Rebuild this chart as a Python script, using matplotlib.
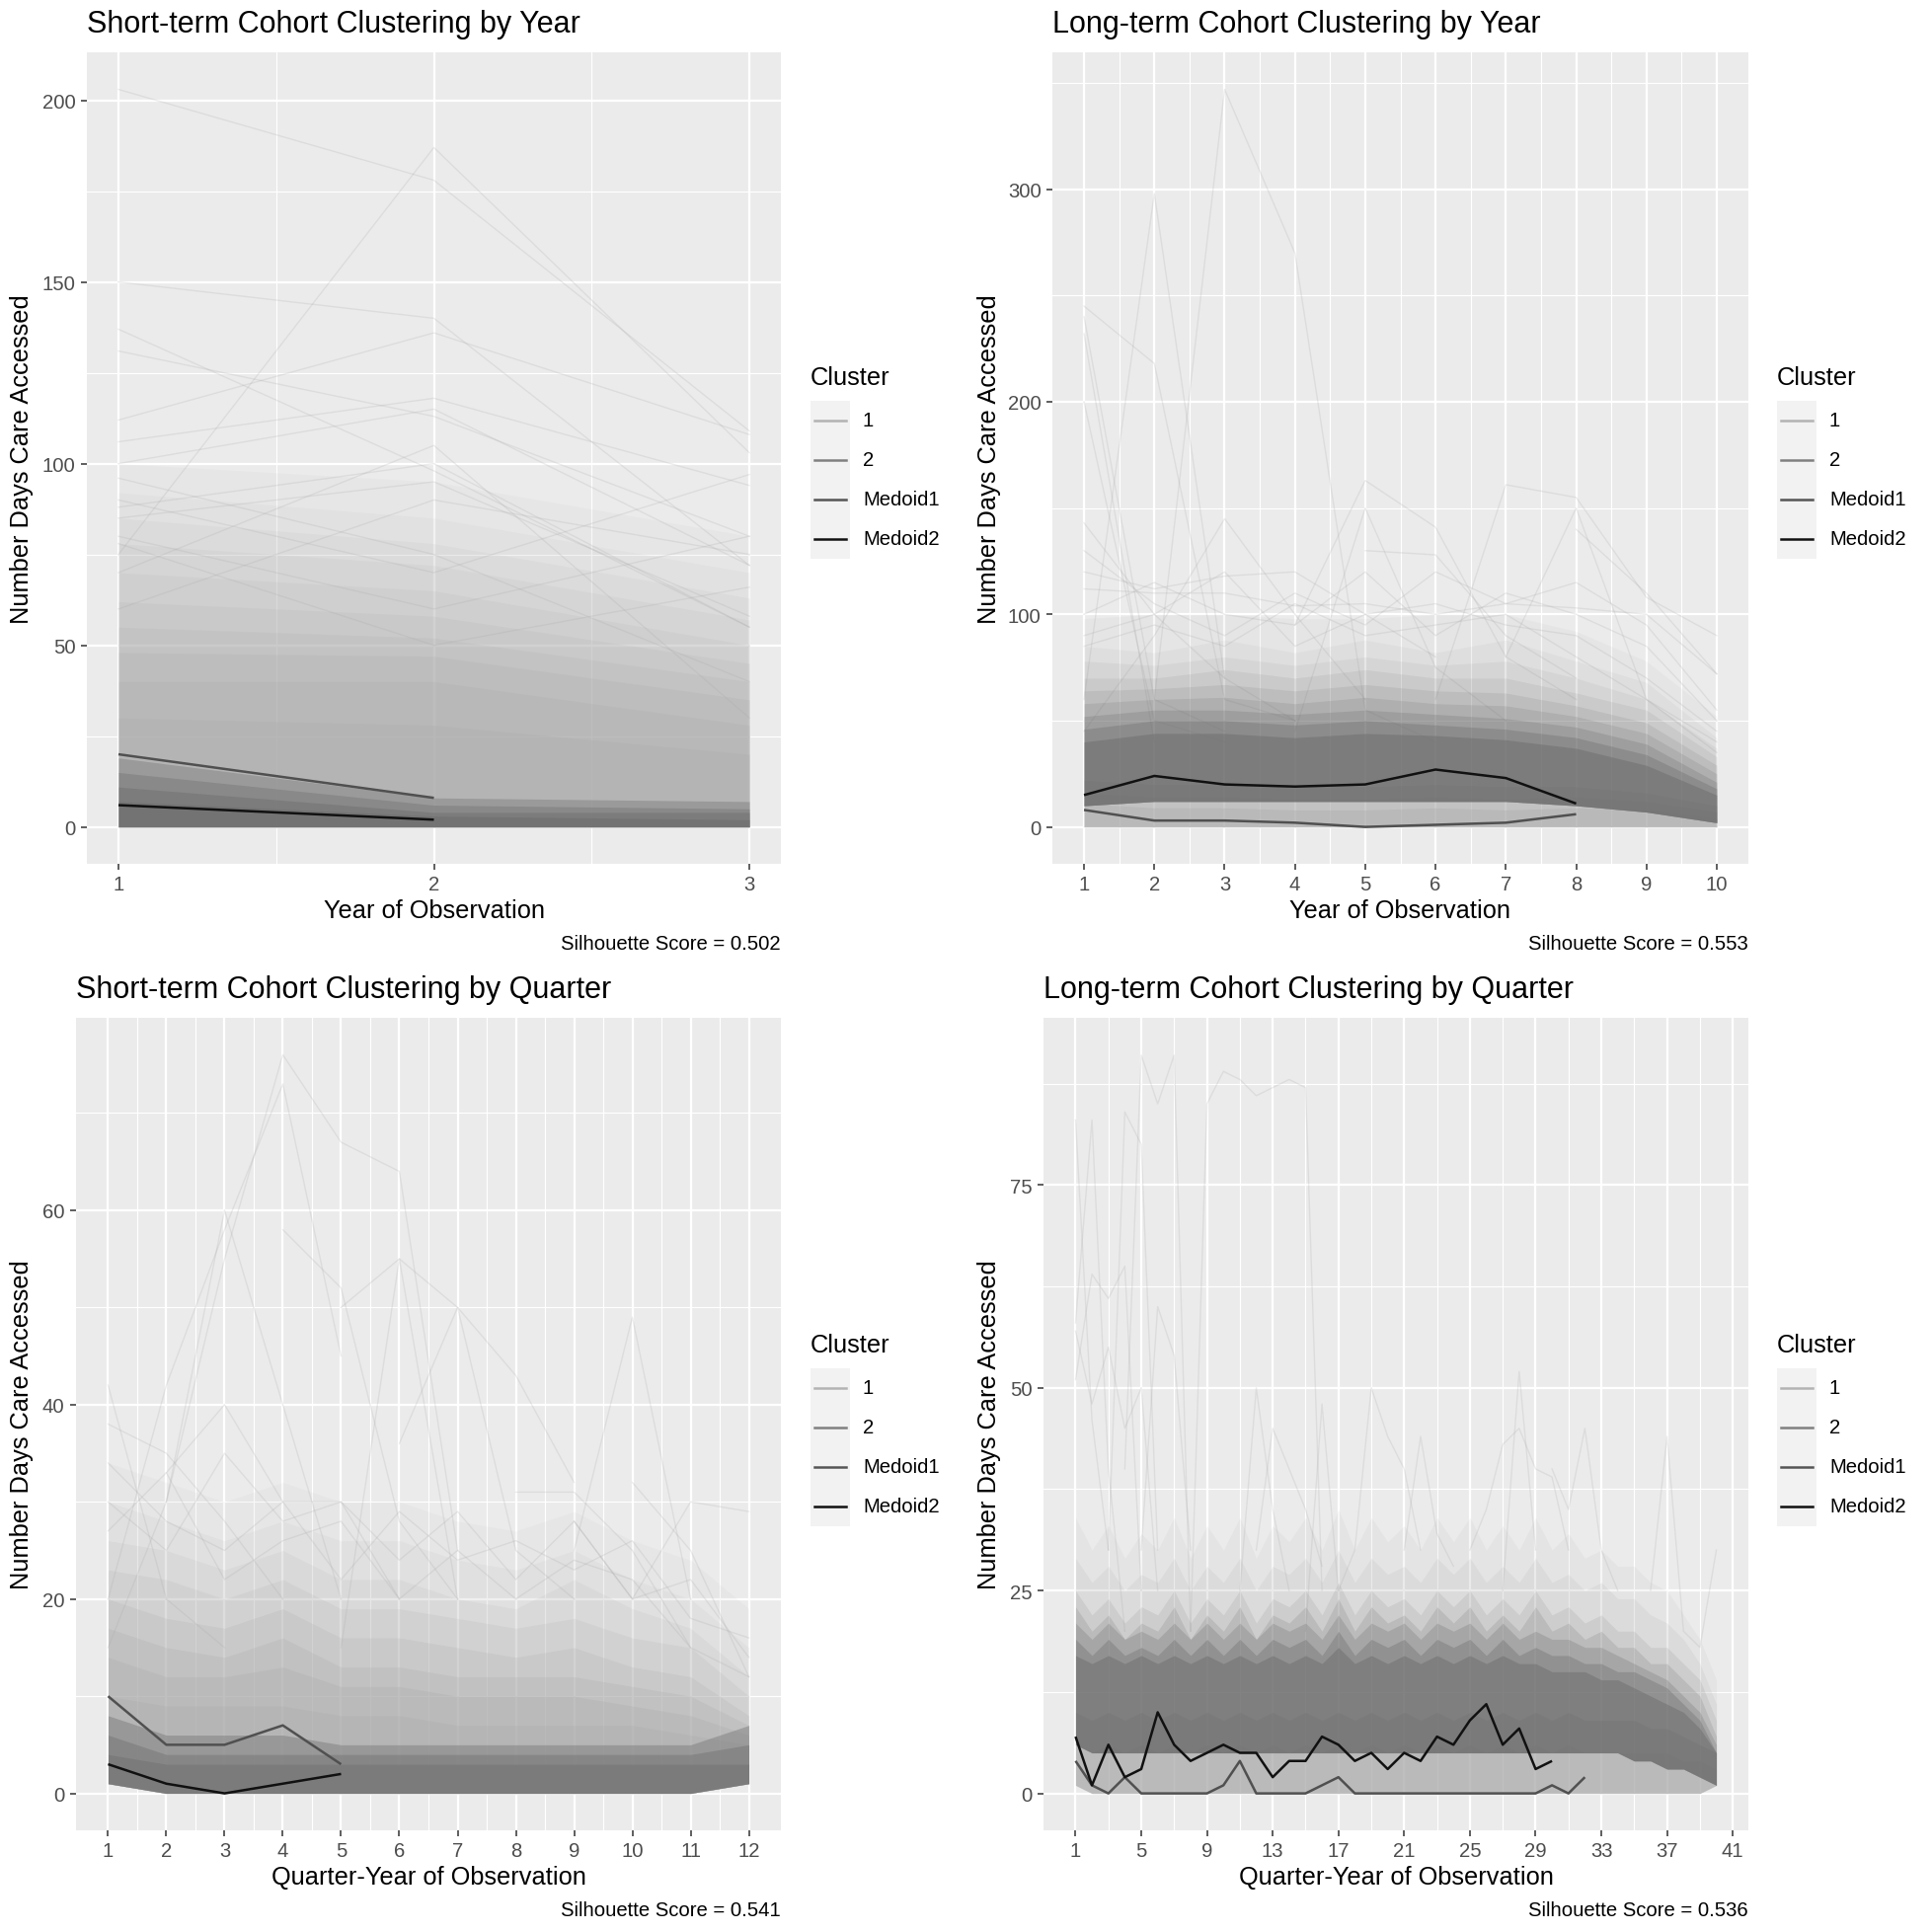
import numpy as np
import matplotlib
matplotlib.use("Agg")
import matplotlib.pyplot as plt
from matplotlib.patches import Rectangle
from matplotlib.lines import Line2D

plt.rcParams['font.family'] = ['Liberation Sans', 'DejaVu Sans']

# ---------------------------------------------------------------- data
titles = ["Short-term Cohort Clustering by Year", "Long-term Cohort Clustering by Year",
          "Short-term Cohort Clustering by Quarter", "Long-term Cohort Clustering by Quarter"]
xlabels = ["Year of Observation", "Year of Observation",
           "Quarter-Year of Observation", "Quarter-Year of Observation"]
ylabel = "Number Days Care Accessed"
silhouette = ["0.502", "0.553", "0.541", "0.536"]
legend_title = "Cluster"
legend_labels = ["1", "2", "Medoid1", "Medoid2"]

N = None

# --- short-term, by year
tl_x = [1, 2, 3]
tl_medoid1 = [20, 8]
tl_medoid2 = [6, 2]
tl_c1_lower = [0, 0, 0]
tl_c1_levels = [[100, 95, 80], [92, 85, 70], [85, 78, 63], [78, 72, 57], [70, 65, 50],
                [62, 58, 45], [55, 52, 40], [48, 47, 35], [40, 40, 28], [30, 28, 20]]
tl_c2_lower = [0, 0, 0]
tl_c2_levels = [[19, 8, 7], [15, 6, 5], [11, 4, 4], [7, 3, 2]]
tl_outliers = [
    [203, 178, 109], [75, 187, 103], [150, 140, 72], [137, 98, 55], [131, 113, 80],
    [112, 136, 108], [106, 118, 94], [100, 115, 72], [90, 70, 97], [88, 100, 55],
    [80, 60, 80], [85, 95, 58], [96, 75, 40], [70, 105, 30], [60, 90, 75], [78, 50, 66],
]

# --- long-term, by year
tr_x = [1, 2, 3, 4, 5, 6, 7, 8, 9, 10]
tr_medoid1 = [8, 3, 3, 2, 0, 1, 2, 6]
tr_medoid2 = [15, 24, 20, 19, 20, 27, 23, 11]
tr_c1_lower = [0, 0, 0, 0, 0, 0, 0, 0, 0, 0]
tr_c1_levels = [[98, 100, 100, 98, 98, 100, 100, 92, 78, 52],
                [22, 20, 20, 19, 19, 20, 19, 19, 16, 10],
                [16, 14, 14, 13, 13, 14, 13, 14, 12, 7],
                [11, 9, 9, 8, 8, 9, 8, 9, 8, 4]]
tr_c2_lower = [10, 12, 12, 12, 12, 12, 12, 10, 7, 2]
tr_c2_levels = [[85, 82, 88, 82, 88, 82, 88, 78, 68, 42],
                [78, 76, 80, 76, 80, 76, 78, 70, 60, 37],
                [70, 70, 74, 70, 74, 70, 70, 63, 55, 33],
                [64, 65, 67, 64, 67, 64, 63, 57, 49, 29],
                [58, 60, 61, 58, 61, 58, 57, 52, 44, 25],
                [52, 55, 55, 53, 55, 53, 51, 47, 39, 21],
                [46, 50, 50, 48, 50, 48, 46, 42, 34, 18],
                [40, 44, 44, 42, 44, 43, 41, 37, 29, 15]]
tr_outliers = [
    [245, 218, 60, 50, N, N, N, N, N, N],
    [240, 60, 45, N, N, N, N, N, N, N],
    [232, 40, N, N, N, N, N, N, N, N],
    [200, 50, 40, N, N, N, N, N, N, N],
    [143, 100, 70, N, N, N, N, N, N, N],
    [60, 298, 70, 50, N, N, N, N, N, N],
    [N, 60, 347, 270, 55, 40, N, N, N, N],
    [45, 90, 145, 100, 60, N, N, N, N, N],
    [N, N, N, 95, 163, 141, 80, 60, N, N],
    [N, N, N, N, N, 60, 161, 155, 108, 90],
    [N, N, N, N, N, N, 80, 150, 60, 40],
    [N, N, N, 45, 150, 75, 50, N, N, N],
    [N, N, N, N, 130, 128, 90, 70, N, N],
    [120, 112, 118, 120, 100, 80, N, N, N, N],
    [112, 110, 110, 104, 105, 100, 105, 103, 100, 72],
    [N, N, N, N, N, N, N, 140, 110, 72],
    [130, 105, 90, 110, 95, 120, 105, 115, 95, 55],
    [100, 115, 100, 95, 120, 90, 110, 100, 85, 50],
    [90, 100, 120, 85, 100, 105, 95, 90, 70, 45],
    [85, 95, 85, 105, 90, 95, 100, 80, 60, 35],
]

# --- short-term, by quarter
bl_x = [1, 2, 3, 4, 5, 6, 7, 8, 9, 10, 11, 12]
bl_medoid1 = [10, 5, 5, 7, 3]
bl_medoid2 = [3, 1, 0, 1, 2]
bl_c1_lower = [1, 0, 0, 0, 0, 0, 0, 0, 0, 0, 0, 1]
bl_c1_levels = [[34, 32, 30, 32, 30, 30, 28, 27, 29, 26, 24, 19],
                [30, 28, 26, 28, 26, 26, 24, 23, 25, 22, 20, 15],
                [26, 25, 23, 25, 22, 22, 20, 19, 22, 19, 17, 12],
                [23, 22, 20, 22, 19, 19, 18, 17, 18, 16, 15, 10],
                [20, 18, 17, 19, 16, 16, 15, 14, 15, 13, 12, 8],
                [17, 15, 14, 16, 13, 13, 12, 12, 12, 11, 10, 7],
                [14, 12, 12, 13, 11, 11, 10, 10, 10, 9, 8, 6],
                [10, 9, 9, 9, 8, 8, 7, 7, 7, 7, 6, 5]]
bl_c2_lower = [1, 0, 0, 0, 0, 0, 0, 0, 0, 0, 0, 1]
bl_c2_levels = [[8, 6, 6, 6, 5, 5, 5, 5, 5, 5, 5, 7],
                [6, 4, 4, 4, 4, 4, 4, 4, 4, 4, 4, 5],
                [4, 3, 3, 3, 3, 3, 3, 3, 3, 3, 3, 3]]
bl_outliers = [
    [N, 30, 55, 76, 67, 64, 25, N, N, N, N, N],
    [20, 42, 58, 73, 45, N, N, N, N, N, N, N],
    [N, N, N, N, 50, 55, 50, 43, 32, N, N, N],
    [N, N, N, N, 15, 55, 20, N, N, N, N, N],
    [N, N, N, N, N, N, N, N, 25, 49, 20, N],
    [42, 20, 15, N, N, N, N, N, N, N, N, N],
    [38, 35, 28, 20, N, N, N, N, N, N, N, N],
    [N, N, N, N, N, N, N, 31, 31, 25, 15, N],
    [N, N, N, N, N, N, N, N, 28, 20, 30, 29],
    [N, N, N, N, N, N, N, N, N, 32, 25, 12],
    [N, 33, 40, 30, 30, 20, N, N, N, N, N, N],
    [15, 30, 60, 40, 20, N, N, N, N, N, N, N],
    [N, N, N, N, N, 36, 50, 25, 20, N, N, N],
    [N, N, N, 58, 52, 28, 20, N, N, N, N, N],
    [30, 25, 35, 28, 30, 24, 29, 22, 28, 20, 22, 14],
    [34, 28, 25, 30, 22, 29, 24, 26, 23, 26, 18, 16],
    [27, 33, 22, 26, 28, 20, 25, 20, 24, 22, 15, 12],
]

# --- long-term, by quarter
br_x = list(range(1, 41))
br_medoid1 = [4, 1, 0, 2, 0, 0, 0, 0, 0, 1, 4, 0, 0, 0, 0, 1, 2, 0, 0, 0, 0, 0, 0, 0, 0, 0, 0, 0, 0, 1, 0, 2]
br_medoid2 = [7, 1, 6, 2, 3, 10, 6, 4, 5, 6, 5, 5, 2, 4, 4, 7, 6, 4, 5, 3, 5, 4, 7, 6, 9, 11, 6, 8, 3, 4]
br_c1_lower = [1, 0, 0, 0, 0, 0, 0, 0, 0, 0, 0, 0, 0, 0, 0, 0, 0, 0, 0, 0,
               0, 0, 0, 0, 0, 0, 0, 0, 0, 0, 0, 0, 0, 0, 0, 0, 0, 0, 0, 1]
br_c1_levels = [[34, 30, 33, 29, 32, 30, 34, 29, 33, 30, 34, 29, 33, 31, 34, 30, 35, 30, 34, 31,
                 33, 30, 34, 31, 34, 30, 33, 30, 34, 30, 32, 29, 30, 28, 28, 26, 25, 22, 19, 14],
                [29, 26, 28, 25, 27, 26, 29, 25, 28, 26, 29, 25, 28, 27, 29, 26, 30, 26, 29, 27,
                 28, 26, 29, 27, 29, 26, 28, 26, 29, 26, 27, 25, 26, 24, 24, 22, 21, 19, 16, 11],
                [10, 9, 10, 9, 10, 9, 10, 9, 10, 9, 10, 9, 10, 9, 10, 9, 10, 9, 10, 9,
                 10, 9, 10, 9, 10, 9, 10, 9, 10, 9, 10, 9, 9, 9, 9, 8, 8, 7, 6, 5],
                [6, 5, 6, 5, 6, 5, 6, 5, 6, 5, 6, 5, 6, 5, 6, 5, 6, 5, 6, 5,
                 6, 5, 6, 5, 6, 5, 6, 5, 6, 5, 6, 5, 5, 5, 5, 5, 5, 4, 4, 3]]
br_c2_lower = [6, 5, 5, 5, 5, 5, 5, 5, 5, 5, 5, 5, 5, 5, 5, 5, 5, 5, 5, 5,
               5, 5, 5, 5, 5, 5, 5, 5, 5, 5, 5, 5, 5, 5, 4, 4, 3, 3, 2, 1]
br_c2_levels = [[25, 22, 24, 21, 23, 22, 25, 21, 24, 22, 25, 21, 24, 23, 25, 22, 26, 22, 25, 23,
                 24, 22, 25, 23, 25, 22, 24, 22, 25, 22, 23, 21, 22, 20, 20, 18, 18, 16, 14, 9],
                [23, 20, 22, 19, 21, 20, 23, 19, 22, 20, 23, 19, 22, 21, 23, 20, 24, 20, 23, 21,
                 22, 20, 23, 21, 23, 20, 22, 20, 23, 20, 21, 19, 20, 18, 18, 16, 16, 14, 12, 7],
                [21, 19, 21, 19, 20, 19, 21, 19, 21, 19, 21, 19, 21, 20, 21, 19, 22, 19, 21, 20,
                 21, 19, 21, 20, 21, 19, 21, 19, 20, 19, 19, 18, 18, 17, 16, 15, 14, 12, 10, 6],
                [19, 17, 19, 17, 18, 17, 19, 17, 19, 17, 19, 17, 19, 18, 19, 17, 20, 17, 19, 18,
                 19, 17, 19, 18, 19, 17, 19, 17, 18, 17, 17, 16, 16, 15, 15, 14, 13, 11, 9, 5],
                [17, 16, 17, 16, 17, 16, 17, 16, 17, 16, 17, 16, 17, 16, 17, 16, 18, 16, 17, 16,
                 17, 16, 17, 16, 17, 16, 17, 16, 16, 15, 15, 15, 14, 14, 13, 12, 11, 10, 8, 5]]
br_outliers = [
    (1, [83, 46, 30]), (1, [58, 83, 40, 20]), (1, [51, 64, 61, 65, 25]),
    (3, [30, 84, 80, 30]), (4, [40, 91, 85, 91, 20]),
    (8, [20, 85, 89, 88, 86, 87, 88, 87, 25]), (5, [30, 60, 54, 30]),
    (1, [57, 48, 55, 45, 50, 25]), (11, [25, 50, 35, 25]),
    (15, [20, 48, 25, 30, 50, 44, 40, 30]), (25, [30, 35, 43, 45, 40, 39, 30]),
    (27, [25, 52, 30]), (30, [40, 35, 45, 30, 25]), (36, [25, 44, 20, 18, 30]),
    (21, [30, 44, 32, 28]), (12, [30, 45, 40, 35, 28]),
]

# ---------------------------------------------------------------- style
W = 1958
BG = "#ebebeb"
C1 = "#a9a9a9"
C2 = "#6a6a6a"
M1 = "#505050"
M2 = "#111111"
LEG_COLORS = ["#b3b3b3", "#808080", "#555555", "#111111"]

fig = plt.figure(figsize=(W / 100, W / 100), dpi=100)
fig.patch.set_facecolor("white")


def fx(px):
    return px / W


def fy(py):
    return 1 - py / W


def to_arr(v, n):
    a = np.full(n, np.nan)
    for i, val in enumerate(v):
        if val is not None:
            a[i] = val
    return a


def panel(rect, x, c1_lower, c1_levels, c2_lower, c2_levels, outliers, med1, med2,
          xlim, ylim, xticks, xminor, yticks, yminor, c1_a, c2_a, out_a=0.22):
    l, r, t, b = rect
    ax = fig.add_axes([fx(l), fy(b), fx(r) - fx(l), (b - t) / W])
    ax.set_facecolor(BG)
    for s in ax.spines.values():
        s.set_visible(False)
    ax.set_axisbelow(True)
    x = np.asarray(x, float)
    n = len(x)
    for lev, a in zip(c1_levels, c1_a):
        ax.fill_between(x, c1_lower, lev, color=C1, alpha=a, lw=0, zorder=2)
    for o in outliers:
        if isinstance(o, tuple):
            xs = np.arange(o[0], o[0] + len(o[1]))
            ax.plot(xs, o[1], color=C1, alpha=out_a, lw=1.0, zorder=2.5)
        else:
            ax.plot(x, to_arr(o, n), color=C1, alpha=out_a, lw=1.0, zorder=2.5)
    for lev, a in zip(c2_levels, c2_a):
        ax.fill_between(x, c2_lower, lev, color=C2, alpha=a, lw=0, zorder=3)
    ax.plot(x[:len(med1)], med1, color=M1, lw=1.8, zorder=5, solid_capstyle="butt")
    ax.plot(x[:len(med2)], med2, color=M2, lw=1.8, zorder=6, solid_capstyle="butt")
    ax.set_xlim(*xlim)
    ax.set_ylim(*ylim)
    ax.set_xticks(xticks)
    ax.set_xticks(xminor, minor=True)
    ax.set_yticks(yticks)
    ax.set_yticks(yminor, minor=True)
    ax.set_xticklabels([str(v) for v in xticks])
    ax.set_yticklabels([str(v) for v in yticks])
    ax.grid(True, which="major", color="white", lw=1.65)
    ax.grid(True, which="minor", color="white", lw=0.85)
    ax.tick_params(which="major", length=4.6, width=1.1, color="#333333",
                   labelcolor="#4d4d4d", labelsize=14.6, pad=3.6)
    ax.tick_params(which="minor", length=0)
    return ax


def decorate(rect, offx, offy, title, xlabel, sil, legx):
    l, r, t, b = rect
    fig.text(fx(l), fy(t - 29), title, ha="left", va="center", size=22, color="black")
    fig.text(fx((l + r) / 2), fy(b + 47), xlabel, ha="center", va="center", size=18.3)
    fig.text(fx(r), fy(b + 81), "Silhouette Score = " + sil, ha="right", va="center", size=14.6)
    fig.text(fx(offx + 22), fy((t + b) / 2), ylabel, ha="center", va="center",
             rotation=90, size=18.3)
    # legend
    fig.text(fx(legx), fy(offy + 383), legend_title, ha="left", va="center", size=18.3)
    top = offy + 407
    key = 40
    fig.add_artist(Rectangle((fx(legx), fy(top + 4 * key)), key / W, 4 * key / W,
                             transform=fig.transFigure, facecolor="#f2f2f2", edgecolor="none"))
    for i, (lab, col) in enumerate(zip(legend_labels, LEG_COLORS)):
        yc = top + key * i + key / 2
        fig.add_artist(Line2D([fx(legx + 4), fx(legx + key - 4)], [fy(yc), fy(yc)],
                              transform=fig.transFigure, color=col, lw=1.8))
        fig.text(fx(legx + 53), fy(yc), lab, ha="left", va="center", size=14.6)


rect_tl = (88, 791, 54, 876)
rect_tr = (1066, 1771, 54, 876)
rect_bl = (77, 791, 1032, 1855)
rect_br = (1057, 1771, 1032, 1855)

a10 = [0.07, 0.08, 0.1, 0.11, 0.13, 0.15, 0.17, 0.2, 0.22, 0.25]

panel(rect_tl, tl_x, tl_c1_lower, tl_c1_levels, tl_c2_lower, tl_c2_levels, tl_outliers,
      tl_medoid1, tl_medoid2, (0.9, 3.1), (-10.15, 213.2), [1, 2, 3], [1.5, 2.5],
      [0, 50, 100, 150, 200], [25, 75, 125, 175],
      c1_a=a10, c2_a=[0.35, 0.35, 0.4, 0.45])

panel(rect_tr, tr_x, tr_c1_lower, tr_c1_levels, tr_c2_lower, tr_c2_levels, tr_outliers,
      tr_medoid1, tr_medoid2, (0.55, 10.45), (-17.35, 364.4), list(range(1, 11)),
      [1.5 + i for i in range(9)], [0, 100, 200, 300], [50, 150, 250, 350],
      c1_a=[0.08, 0.35, 0.35, 0.35], c2_a=[0.05, 0.07, 0.1, 0.13, 0.17, 0.24, 0.33, 0.45])

panel(rect_bl, bl_x, bl_c1_lower, bl_c1_levels, bl_c2_lower, bl_c2_levels, bl_outliers,
      bl_medoid1, bl_medoid2, (0.45, 12.55), (-3.8, 79.8), list(range(1, 13)),
      [1.5 + i for i in range(11)], [0, 20, 40, 60], [10, 30, 50, 70],
      c1_a=[0.07, 0.09, 0.12, 0.15, 0.2, 0.24, 0.26, 0.26], c2_a=[0.38, 0.38, 0.38])

panel(rect_br, br_x, br_c1_lower, br_c1_levels, br_c2_lower, br_c2_levels, br_outliers,
      br_medoid1, br_medoid2, (-0.95, 41.95), (-4.55, 95.6), list(range(1, 42, 4)),
      list(range(3, 41, 4)), [0, 25, 50, 75], [12.5, 37.5, 62.5, 87.5],
      c1_a=[0.1, 0.15, 0.45, 0.35], c2_a=[0.12, 0.18, 0.25, 0.35, 0.45])

decorate(rect_tl, 0, 0, titles[0], xlabels[0], silhouette[0], 821)
decorate(rect_tr, 980, 0, titles[1], xlabels[1], silhouette[1], 1800)
decorate(rect_bl, 0, 980, titles[2], xlabels[2], silhouette[2], 821)
decorate(rect_br, 980, 980, titles[3], xlabels[3], silhouette[3], 1800)

fig.savefig("out.png", dpi=100, facecolor="white")
